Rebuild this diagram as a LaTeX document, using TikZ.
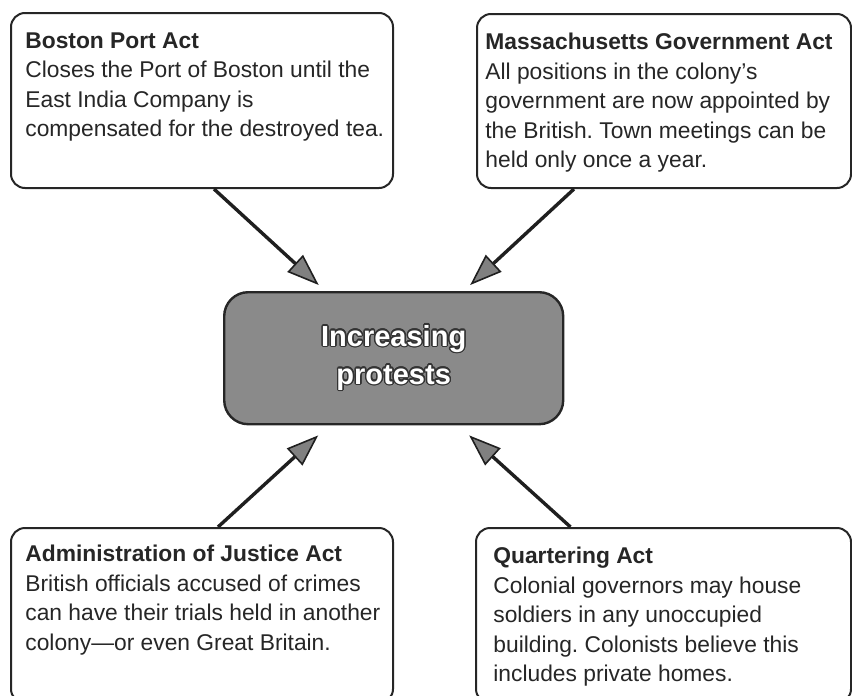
\documentclass[tikz,border=0pt]{standalone}
\usepackage{fontspec}
\setmainfont{Liberation Sans}
\usepackage{contour}
\contourlength{0.7pt}
\usetikzlibrary{arrows.meta}
\frenchspacing
\tikzset{
  actbox/.style={draw=black!85, line width=1pt, rounded corners=7pt, anchor=north west, inner sep=0pt, fill=white},
  acttext/.style={anchor=north west, inner sep=0pt, align=left, font=\fontsize{11.4}{14.75}\selectfont\frenchspacing, text=black!85},
  hubbox/.style={draw=black!85, line width=1.2pt, rounded corners=12pt, fill=black!46, anchor=north west, inner sep=0pt,
    align=center, text=white, font=\fontsize{14.5}{19}\selectfont\bfseries},
  feed/.style={line width=1.7pt, draw=black!88, -{Triangle[length=16pt,width=11.5pt,fill=black!50,line width=0.8pt]}}
}
\begin{document}
\begin{tikzpicture}[x=0.5pt,y=-0.5pt]
\useasboundingbox (0,0) rectangle (852,696);
\clip (0,0) rectangle (852,696);

% boxes
\node[actbox, minimum width=191pt, minimum height=87.5pt] (bp) at (10,12) {};
\node[actbox, minimum width=187pt, minimum height=87pt] (mg) at (476,13) {};
\node[actbox, minimum width=191pt, minimum height=87.5pt] (aj) at (10,527) {};
\node[actbox, minimum width=187.5pt, minimum height=87.5pt] (qa) at (475,527) {};

% texts
\node[acttext] (bpt) at (25,32) {\textbf{Boston Port Act}\\Closes the Port of Boston until the\\East India Company is\\compensated for the destroyed tea.};
\node[acttext] (mgt) at (485,33) {\textbf{Massachusetts Government Act}\\All positions in the colony’s\\government are now appointed by\\the British. Town meetings can be\\held only once a year.};
\node[acttext] (ajt) at (25,545) {\textbf{Administration of Justice Act}\\British officials accused of crimes\\can have their trials held in another\\colony—or even Great Britain.};
\node[acttext] (qat) at (493,547) {\textbf{Quartering Act}\\Colonial governors may house\\soldiers in any unoccupied\\building. Colonists believe this\\includes private homes.};

% hub
\node[hubbox, minimum width=169.5pt, minimum height=66pt] (hub) at (223,291)
  {\contour{black!80}{Increasing}\\\contour{black!80}{protests}};

% arrows
\draw[feed] ([xshift=6pt]bp.south) -- ([xshift=-37.5pt,yshift=3pt]hub.north);
\draw[feed] ([xshift=-45pt]mg.south) -- ([xshift=38.25pt,yshift=3pt]hub.north);
\draw[feed] ([xshift=8pt]aj.north) -- ([xshift=-37.75pt,yshift=-5pt]hub.south);
\draw[feed] ([xshift=-46.5pt]qa.north) -- ([xshift=37.75pt,yshift=-5pt]hub.south);
\end{tikzpicture}
\end{document}
